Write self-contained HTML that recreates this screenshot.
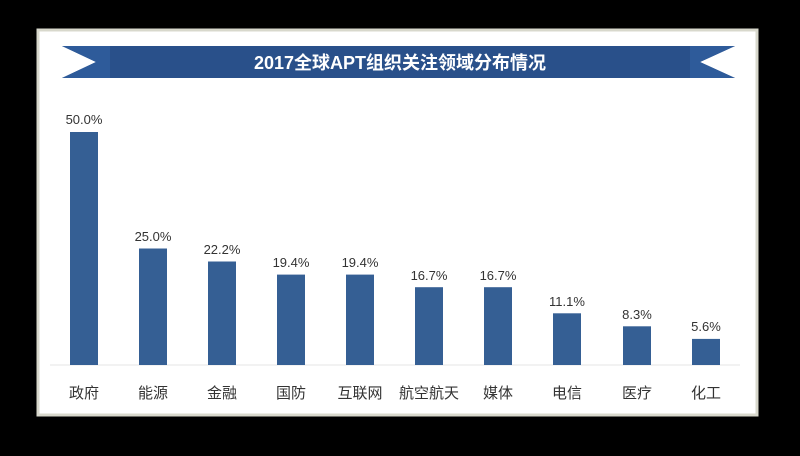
<!DOCTYPE html>
<html><head><meta charset="utf-8"><style>
body{margin:0;background:#000;width:800px;height:451px;overflow:hidden;font-family:"Liberation Sans","Noto Sans CJK SC",sans-serif}
</style></head><body>
<svg width="800" height="451" xmlns="http://www.w3.org/2000/svg">
<rect x="0" y="0" width="800" height="451" fill="#000"/>
<rect x="38" y="30" width="719" height="385" fill="#fff" stroke="#d8d8cc" stroke-width="3"/>
<polygon points="62,46 735,46 700,62 735,78 62,78 96,62" fill="#29508a"/>
<polygon points="62,46 110,46 110,78 62,78 96,62" fill="#2e5b9a"/>
<polygon points="735,46 690,46 690,78 735,78 700,62" fill="#2e5b9a"/>
<text x="400" y="69" text-anchor="middle" fill="#fff" font-size="18" font-weight="bold">2017全球APT组织关注领域分布情况</text>
<line x1="50" y1="365" x2="740" y2="365" stroke="#e6e6e6"/>
<g fill="#355f94">
<rect x="70" y="132" width="28" height="233"/>
<rect x="139" y="248.5" width="28" height="116.5"/>
<rect x="208" y="261.5" width="28" height="103.5"/>
<rect x="277" y="274.6" width="28" height="90.4"/>
<rect x="346" y="274.6" width="28" height="90.4"/>
<rect x="415" y="287.2" width="28" height="77.8"/>
<rect x="484" y="287.2" width="28" height="77.8"/>
<rect x="553" y="313.3" width="28" height="51.7"/>
<rect x="623" y="326.3" width="28" height="38.7"/>
<rect x="692" y="338.9" width="28" height="26.1"/>
</g>
<g fill="#333" font-size="13" text-anchor="middle">
<text x="84" y="124">50.0%</text>
<text x="153" y="241">25.0%</text>
<text x="222" y="254">22.2%</text>
<text x="291" y="267">19.4%</text>
<text x="360" y="267">19.4%</text>
<text x="429" y="280">16.7%</text>
<text x="498" y="280">16.7%</text>
<text x="567" y="306">11.1%</text>
<text x="637" y="319">8.3%</text>
<text x="706" y="331">5.6%</text>
</g>
<g fill="#333" font-size="15" text-anchor="middle">
<text x="84" y="398">政府</text>
<text x="153" y="398">能源</text>
<text x="222" y="398">金融</text>
<text x="291" y="398">国防</text>
<text x="360" y="398">互联网</text>
<text x="429" y="398">航空航天</text>
<text x="498" y="398">媒体</text>
<text x="567" y="398">电信</text>
<text x="637" y="398">医疗</text>
<text x="706" y="398">化工</text>
</g>
</svg>
</body></html>
